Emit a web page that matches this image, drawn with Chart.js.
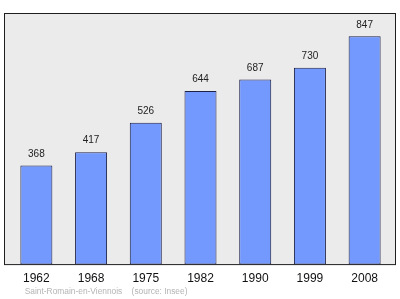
<!DOCTYPE html>
<html><head><meta charset="utf-8">
<script src="https://cdn.jsdelivr.net/npm/chart.js@4"></script>
<style>html,body{margin:0;padding:0;background:#fff}#w{width:400px;height:299px}</style>
</head><body><div id="w"><canvas id="c"></canvas></div>
<script>
const years = ["1962","1968","1975","1982","1990","1999","2008"];
const population = [368,417,526,644,687,730,847];
const footerText = "Saint-Romain-en-Viennois    (source: Insee)";

const boxPlugin = {
  id: 'box',
  beforeDraw(chart) {
    const a = chart.chartArea, ctx = chart.ctx;
    ctx.save();
    ctx.fillStyle = '#ebebeb';
    ctx.fillRect(4.5, 13.5, 391, a.bottom - 13.5);
    ctx.strokeStyle = '#1e1e1e';
    ctx.lineWidth = 1;
    ctx.strokeRect(4.5, 13.5, 391, a.bottom - 13.5);
    ctx.restore();
  }
};
const labelPlugin = {
  id: 'vals',
  afterDatasetsDraw(chart) {
    const ctx = chart.ctx, meta = chart.getDatasetMeta(0);
    ctx.save();
    ctx.font = '10px "Liberation Sans", Arial, sans-serif';
    ctx.fillStyle = '#222';
    ctx.textAlign = 'center';
    ctx.textBaseline = 'middle';
    meta.data.forEach((el, i) => {
      ctx.fillText(String(population[i]), el.x, el.y - 11.5);
    });
    ctx.fillStyle = '#b4b4b4';
    ctx.font = '8.4px "Liberation Sans", Arial, sans-serif';
    ctx.textAlign = 'left';
    ctx.fillText(footerText, 24.7, 291.7);
    ctx.restore();
  }
};

new Chart(document.getElementById('c'), {
  type: 'bar',
  data: {
    labels: years,
    datasets: [{
      data: population,
      backgroundColor: '#7399ff',
      borderColor: '#1c2147',
      borderWidth: 1,
      borderSkipped: false,
      categoryPercentage: 1,
      barPercentage: 0.585
    }]
  },
  options: {
    responsive: true,
    maintainAspectRatio: false,
    animation: false,
    layout: { padding: { left: 9, right: 8, top: 13.5, bottom: 6 } },
    plugins: {
      legend: { display: false },
      tooltip: { enabled: false },
      title: { display: false }
    },
    scales: {
      x: {
        offset: true,
        grid: { display: false, drawTicks: false },
        border: { display: false },
        ticks: { color: '#111', padding: 7, font: { family: '"Liberation Sans", Arial, sans-serif', size: 12 } }
      },
      y: { display: false, min: 0, max: 931.7 }
    }
  },
  plugins: [boxPlugin, labelPlugin]
});
</script></body></html>
